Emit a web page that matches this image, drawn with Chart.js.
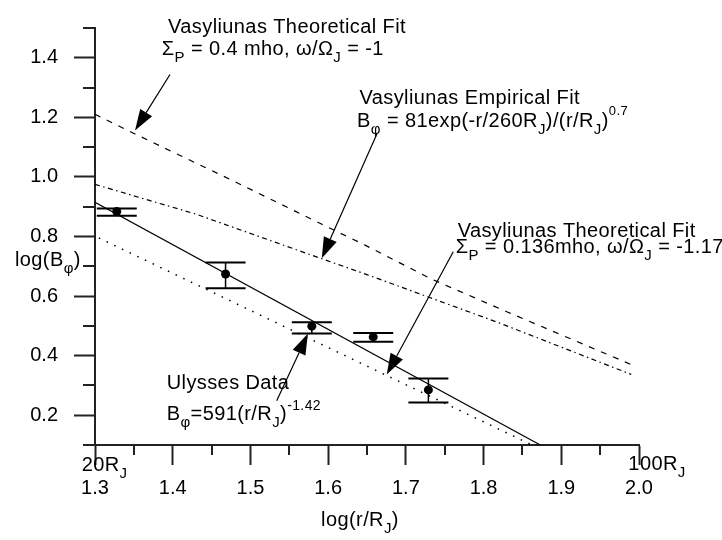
<!DOCTYPE html>
<html><head><meta charset="utf-8">
<script src="https://cdn.jsdelivr.net/npm/chart.js@4"></script>
<style>html,body{margin:0;padding:0;background:#fff}canvas{display:block}</style>
</head><body>
<canvas id="c" width="722" height="540"></canvas>
<script>
// ---- data ----
const ulyssesX  = [1.328, 1.468, 1.579, 1.658, 1.729];
const ulyssesY  = [0.884, 0.674, 0.499, 0.463, 0.285];
const ulyssesHi = [0.894, 0.713, 0.512, 0.476, 0.323];
const ulyssesLo = [0.870, 0.626, 0.474, 0.447, 0.243];

const powerFitX = [1.3, 1.873];
const powerFitY = [0.915, 0.1];

const theory136X = [1.305, 1.86];
const theory136Y = [0.795, 0.103];

const theory04X = [1.3, 1.351, 1.48, 1.592, 1.6475, 1.733, 1.832, 1.991];
const theory04Y = [1.21, 1.145, 0.984, 0.841, 0.771, 0.657, 0.545, 0.369];

const empiricalX = [1.3, 1.43, 1.59, 1.65, 1.82, 1.99];
const empiricalY = [0.975, 0.875, 0.727, 0.672, 0.51, 0.337];

const xTickValues = [1.3, 1.4, 1.5, 1.6, 1.7, 1.8, 1.9, 2.0];
const xTickLabels = ['1.3', '1.4', '1.5', '1.6', '1.7', '1.8', '1.9', '2.0'];
const xMinorValues = [1.35, 1.45, 1.55, 1.65, 1.75, 1.85, 1.95];
const yTickValues = [0.2, 0.4, 0.6, 0.8, 1.0, 1.2, 1.4];
const yTickLabels = ['0.2', '0.4', '0.6', '0.8', '1.0', '1.2', '1.4'];
const yMinorValues = [0.1, 0.3, 0.5, 0.7, 0.9, 1.1, 1.3, 1.5];

// annotations (data coordinates)
const arrowFrom = [[1.3965, 1.344], [1.663, 1.146], [1.761, 0.749], [1.5338, 0.2485]];
const arrowTo   = [[1.3515, 1.156], [1.5918, 0.727], [1.6754, 0.3366], [1.574, 0.474]];

const textItems = [
  {x: 1.394, y: 1.483, parts: [['Vasyliunas Theoretical Fit']]},
  {x: 1.386, y: 1.411, parts: [['Σ'], ['P', 'sub'], [' = 0.4 mho, ω/Ω'], ['J', 'sub'], [' = -1']]},
  {x: 1.6404, y: 1.244, parts: [['Vasyliunas Empirical Fit']]},
  {x: 1.6372, y: 1.169, parts: [['B'], ['φ', 'sub'], [' = 81exp(-r/260R'], ['J', 'sub'], [')/(r/R'], ['J', 'sub'], [')'], ['0.7', 'supsm']]},
  {x: 1.7667, y: 0.7997, parts: [['Vasyliunas Theoretical Fit']]},
  {x: 1.7642, y: 0.7436, parts: [['Σ'], ['P', 'sub'], [' = 0.136mho, ω/Ω'], ['J', 'sub'], [' = -1.17']]},
  {x: 1.3923, y: 0.2871, parts: [['Ulysses Data']]},
  {x: 1.3923, y: 0.1825, parts: [['B'], ['φ', 'sub'], ['=591(r/R'], ['J', 'sub'], [')'], ['-1.42', 'sup']]},
  {x: 1.2829, y: 0.0142, parts: [['20R'], ['J', 'sub']]},
  {x: 1.9863, y: 0.0175, parts: [['100R'], ['J', 'sub']]},
  {x: 1.197, y: 0.7007, parts: [['log(B'], ['φ', 'sub'], [')']]},
  {x: 1.641, y: -0.1706, align: 'center', parts: [['log(r/R'], ['J', 'sub'], [')']]}
];

const FONT = '"Liberation Sans", Arial, sans-serif';
const AXIS = '#222';

const annotPlugin = {
  id: 'annot',
  beforeDatasetsDraw(chart) {
    const xs = chart.scales.x, ys = chart.scales.y, ctx = chart.ctx;
    ctx.save();
    ctx.strokeStyle = AXIS;
    ctx.lineWidth = 2;
    ctx.beginPath();
    xMinorValues.forEach(v => { const p = Math.round(xs.getPixelForValue(v)); ctx.moveTo(p, ys.bottom); ctx.lineTo(p, ys.bottom + 10); });
    yMinorValues.forEach(v => { const p = Math.round(ys.getPixelForValue(v)); ctx.moveTo(xs.left - 12, p); ctx.lineTo(xs.left, p); });
    ctx.stroke();
    // error bars
    ctx.strokeStyle = '#000';
    for (let i = 0; i < ulyssesX.length; i++) {
      const px = xs.getPixelForValue(ulyssesX[i]);
      const hi = ys.getPixelForValue(ulyssesHi[i]);
      const lo = ys.getPixelForValue(ulyssesLo[i]);
      ctx.lineWidth = 1.5;
      ctx.beginPath(); ctx.moveTo(px, hi); ctx.lineTo(px, lo); ctx.stroke();
      ctx.lineWidth = 2;
      ctx.beginPath();
      ctx.moveTo(px - 20, hi); ctx.lineTo(px + 20, hi);
      ctx.moveTo(px - 20, lo); ctx.lineTo(px + 20, lo);
      ctx.stroke();
    }
    ctx.restore();
  },
  afterDatasetsDraw(chart) {
    const xs = chart.scales.x, ys = chart.scales.y, ctx = chart.ctx;
    ctx.save();
    // arrows
    ctx.strokeStyle = '#000'; ctx.fillStyle = '#000'; ctx.lineWidth = 1.2;
    for (let i = 0; i < arrowFrom.length; i++) {
      const x1 = xs.getPixelForValue(arrowFrom[i][0]), y1 = ys.getPixelForValue(arrowFrom[i][1]);
      const x2 = xs.getPixelForValue(arrowTo[i][0]), y2 = ys.getPixelForValue(arrowTo[i][1]);
      const a = Math.atan2(y2 - y1, x2 - x1);
      const L = 21, W = 7;
      const bx = x2 - L * Math.cos(a), by = y2 - L * Math.sin(a);
      ctx.beginPath(); ctx.moveTo(x1, y1); ctx.lineTo(bx, by); ctx.stroke();
      ctx.beginPath();
      ctx.moveTo(x2, y2);
      ctx.lineTo(bx + W * Math.sin(a), by - W * Math.cos(a));
      ctx.lineTo(bx - W * Math.sin(a), by + W * Math.cos(a));
      ctx.closePath(); ctx.fill();
    }
    // texts
    ctx.textBaseline = 'alphabetic'; ctx.textAlign = 'left';
    try { ctx.letterSpacing = '0.4px'; } catch (e) {}
    const styleFor = m => {
      if (m === 'sub') return {size: 15, dy: 7};
      if (m === 'sup') return {size: 14, dy: -10};
      if (m === 'supsm') return {size: 13, dy: -12};
      return {size: 20, dy: 0};
    };
    textItems.forEach(t => {
      let x = xs.getPixelForValue(t.x);
      const y = ys.getPixelForValue(t.y);
      if (t.align === 'center') {
        let w = 0;
        t.parts.forEach(p => { const s = styleFor(p[1]); ctx.font = s.size + 'px ' + FONT; w += ctx.measureText(p[0]).width; });
        x -= w / 2;
      }
      t.parts.forEach(p => {
        const s = styleFor(p[1]);
        ctx.font = s.size + 'px ' + FONT;
        ctx.fillText(p[0], x, y + s.dy);
        x += ctx.measureText(p[0]).width;
      });
    });
    ctx.restore();
  }
};

const toPts = (xa, ya) => xa.map((v, i) => ({x: v, y: ya[i]}));

new Chart(document.getElementById('c'), {
  type: 'scatter',
  data: {
    datasets: [
      {data: toPts(ulyssesX, ulyssesY), pointRadius: 4.5, pointBackgroundColor: '#000', pointBorderWidth: 0, showLine: false},
      {data: toPts(powerFitX, powerFitY), showLine: true, pointRadius: 0, borderColor: '#000', borderWidth: 1.2},
      {data: toPts(theory136X, theory136Y), showLine: true, pointRadius: 0, borderColor: '#000', borderWidth: 1.5, borderDash: [1.5, 7]},
      {data: toPts(theory04X, theory04Y), showLine: true, pointRadius: 0, borderColor: '#000', borderWidth: 1.2, borderDash: [6, 7]},
      {data: toPts(empiricalX, empiricalY), showLine: true, pointRadius: 0, borderColor: '#000', borderWidth: 1.2, borderDash: [5, 3.5, 1.5, 3.5]}
    ]
  },
  options: {
    responsive: false,
    animation: false,
    devicePixelRatio: 1,
    layout: {padding: {left: 0, top: 21, right: 83, bottom: 0}},
    plugins: {legend: {display: false}, tooltip: {enabled: false}},
    scales: {
      x: {
        type: 'linear', min: 1.3, max: 2.0,
        afterBuildTicks: s => { s.ticks = xTickValues.map(v => ({value: v})); },
        afterFit: s => { s.height = 95; },
        ticks: {callback: (v, i) => xTickLabels[i], color: '#000', font: {family: FONT, size: 20}, padding: 11, maxRotation: 0, autoSkip: false},
        grid: {drawOnChartArea: false, drawTicks: true, tickLength: 20, tickWidth: 2, tickColor: AXIS},
        border: {display: true, color: AXIS, width: 2}
      },
      y: {
        type: 'linear', min: 0.1, max: 1.5,
        afterBuildTicks: s => { s.ticks = yTickValues.map(v => ({value: v})); },
        afterFit: s => { s.width = 95; },
        ticks: {callback: (v, i) => yTickLabels[i], color: '#000', font: {family: FONT, size: 20}, padding: 16, autoSkip: false},
        grid: {drawOnChartArea: false, drawTicks: true, tickLength: 21, tickWidth: 2, tickColor: AXIS},
        border: {display: true, color: AXIS, width: 2}
      }
    }
  },
  plugins: [annotPlugin]
});
</script>
</body></html>
